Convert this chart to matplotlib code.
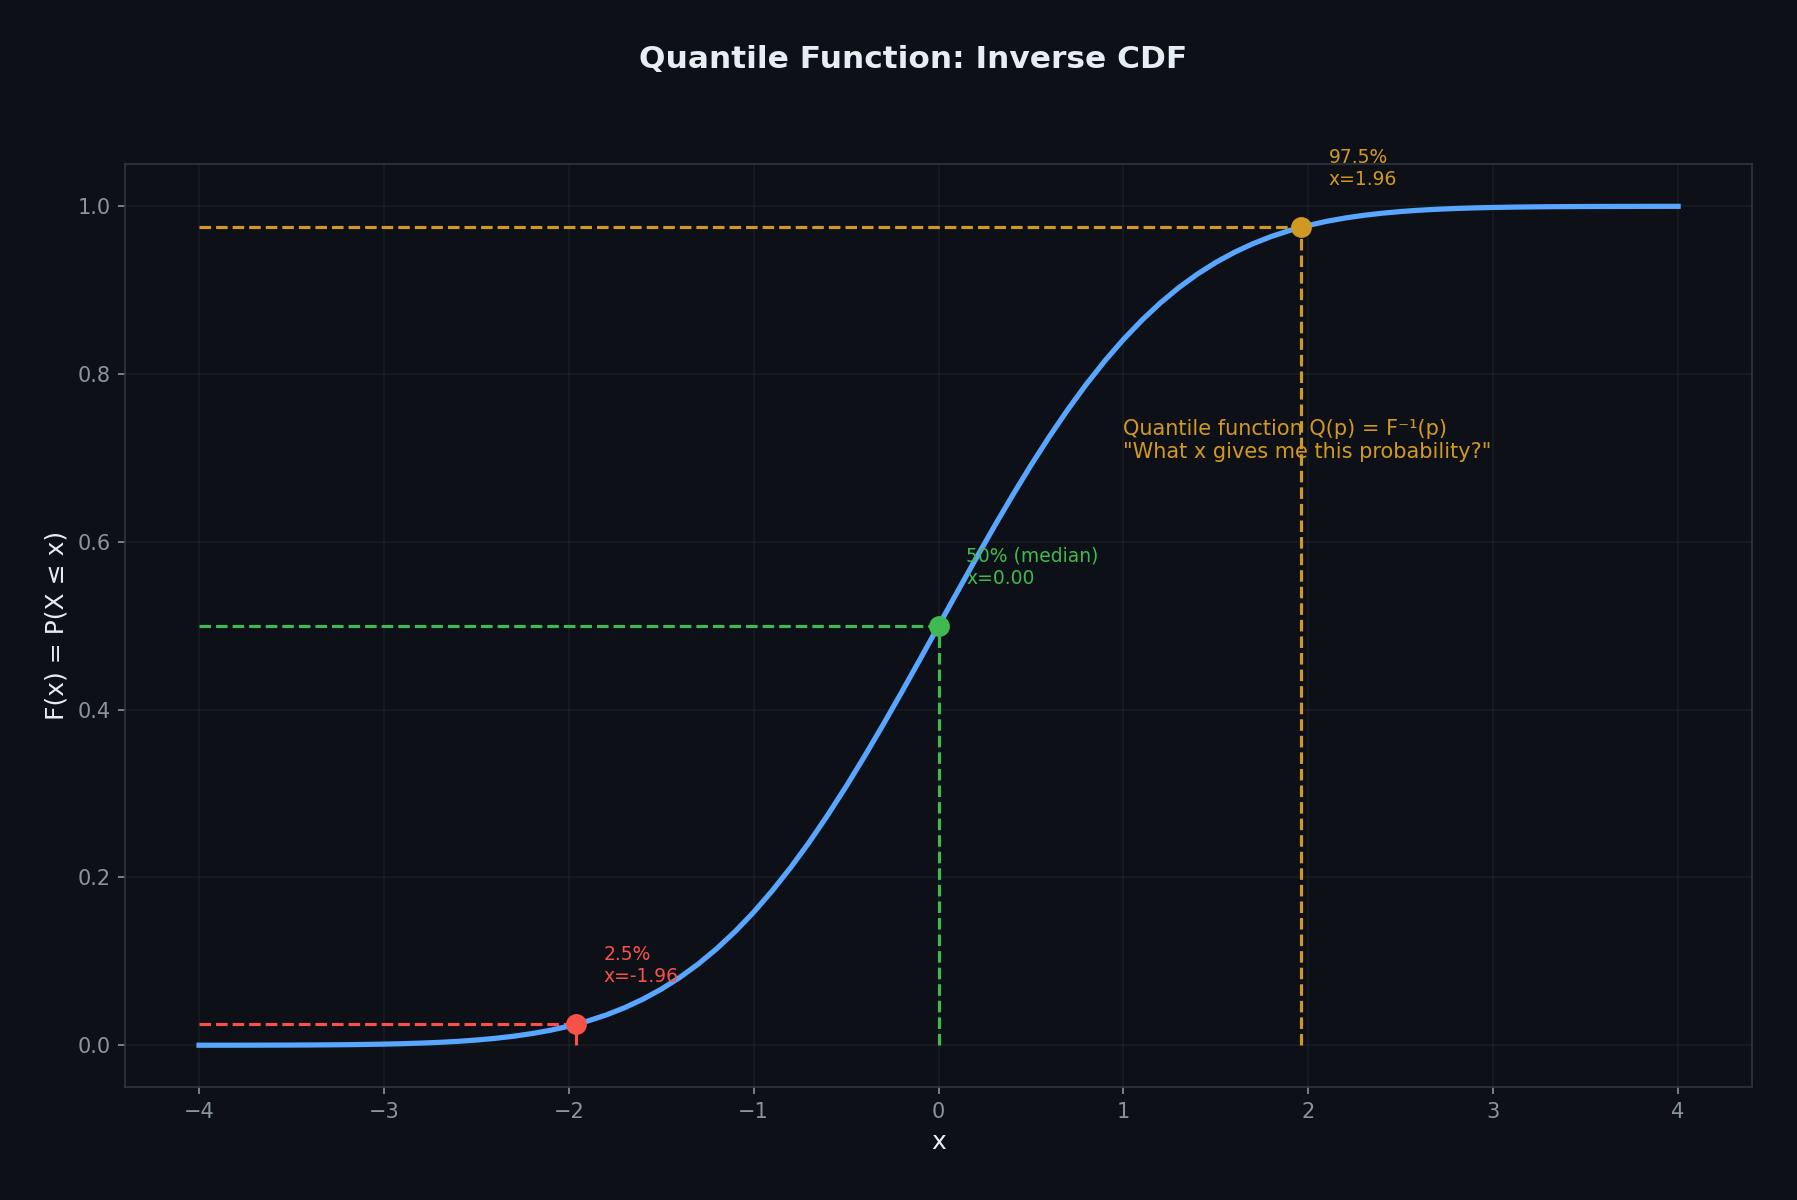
import matplotlib
matplotlib.use("Agg")
import matplotlib.pyplot as plt

# colours (GitHub-dark-ish palette)
BG = "#0d1117"
BLUE = "#58a6ff"
SPINE = "#30363d"
GRID = "#30363d"
TICK = "#8b949e"
TEXT = "#e6edf3"

# standard normal CDF values (step 0.1)
x_vals = [-4.0, -3.9, -3.8, -3.7, -3.6, -3.5, -3.4, -3.3, -3.2, -3.1,
          -3.0, -2.9, -2.8, -2.7, -2.6, -2.5, -2.4, -2.3, -2.2, -2.1,
          -2.0, -1.9, -1.8, -1.7, -1.6, -1.5, -1.4, -1.3, -1.2, -1.1,
          -1.0, -0.9, -0.8, -0.7, -0.6, -0.5, -0.4, -0.3, -0.2, -0.1,
          0.0, 0.1, 0.2, 0.3, 0.4, 0.5, 0.6, 0.7, 0.8, 0.9,
          1.0, 1.1, 1.2, 1.3, 1.4, 1.5, 1.6, 1.7, 1.8, 1.9,
          2.0, 2.1, 2.2, 2.3, 2.4, 2.5, 2.6, 2.7, 2.8, 2.9,
          3.0, 3.1, 3.2, 3.3, 3.4, 3.5, 3.6, 3.7, 3.8, 3.9, 4.0]
cdf_vals = [0.00003, 0.00005, 0.00007, 0.00011, 0.00016, 0.00023, 0.00034, 0.00048, 0.00069, 0.00097,
            0.00135, 0.00187, 0.00256, 0.00347, 0.00466, 0.00621, 0.00820, 0.01072, 0.01390, 0.01786,
            0.02275, 0.02872, 0.03593, 0.04457, 0.05480, 0.06681, 0.08076, 0.09680, 0.11507, 0.13567,
            0.15866, 0.18406, 0.21186, 0.24196, 0.27425, 0.30854, 0.34458, 0.38209, 0.42074, 0.46017,
            0.50000, 0.53983, 0.57926, 0.61791, 0.65542, 0.69146, 0.72575, 0.75804, 0.78814, 0.81594,
            0.84134, 0.86433, 0.88493, 0.90320, 0.91924, 0.93319, 0.94520, 0.95543, 0.96407, 0.97128,
            0.97725, 0.98214, 0.98610, 0.98928, 0.99180, 0.99379, 0.99534, 0.99653, 0.99744, 0.99813,
            0.99865, 0.99903, 0.99931, 0.99952, 0.99966, 0.99977, 0.99984, 0.99989, 0.99993, 0.99995, 0.99997]

# highlighted quantiles
q_probs = [0.025, 0.5, 0.975]
q_x = [-1.96, 0.0, 1.96]
q_labels = ["2.5%", "50% (median)", "97.5%"]
q_colors = ["#f85149", "#3fb950", "#d29922"]

fig = plt.figure(figsize=(11.98, 8), dpi=150, facecolor=BG)
ax = fig.add_axes([0.0696, 0.094, 0.9054, 0.769])
ax.set_facecolor(BG)

ax.plot(x_vals, cdf_vals, color=BLUE, lw=2.5, zorder=3)

for p, xq, lab, c in zip(q_probs, q_x, q_labels, q_colors):
    ax.plot([x_vals[0], xq], [p, p], color=c, ls="--", lw=1.5, zorder=2)
    ax.plot([xq, xq], [0, p], color=c, ls="--", lw=1.5, zorder=2)
    ax.plot(xq, p, "o", color=c, ms=9, zorder=4)
    # text baseline sits a bit above the point
    ax.text(xq + 0.15, p + 0.05, f"{lab}\nx={xq:.2f}", color=c, fontsize=9,
            ha="left", zorder=5)

ax.text(1.0, 0.70, "Quantile function Q(p) = F\u207b\u00b9(p)\n\"What x gives me this probability?\"",
        color=q_colors[2], fontsize=10, ha="left", zorder=5)

ax.grid(True, color=GRID, lw=0.8, alpha=0.3)
ax.set_axisbelow(True)
for s in ax.spines.values():
    s.set_color(SPINE)
ax.tick_params(colors=TICK, labelcolor=TICK, labelsize=10)

ax.set_xlabel("x", color=TEXT, fontsize=12)
ax.set_ylabel("F(x) = P(X \u2264 x)", color=TEXT, fontsize=12)
fig.suptitle("Quantile Function: Inverse CDF", color=TEXT, fontsize=15,
             fontweight="bold", x=0.508, y=0.950, va="center")

fig.savefig("out.png", dpi=150, facecolor=BG)
